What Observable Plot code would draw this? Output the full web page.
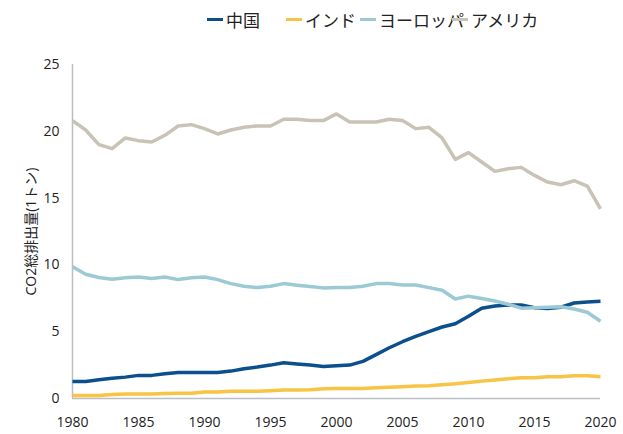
<!DOCTYPE html>
<html>
<head>
<meta charset="utf-8">
<script src="https://cdn.jsdelivr.net/npm/d3@7"></script>
<script src="https://cdn.jsdelivr.net/npm/@observablehq/plot@0.6"></script>
<style>
  body { margin: 0; background: #fff; font-family: "Open Sans", "Noto Sans CJK JP", sans-serif; }
  #legend { height: 40px; position: relative; font-size: 17px; color: #222; }
  .item { position: absolute; top: 7px; display: flex; align-items: center; white-space: nowrap; }
  .sw { width: 16px; height: 3px; margin-right: 3px; }
</style>
</head>
<body>
<div id="legend"></div>
<div id="chart"></div>
<script>
const years = d3.range(1980, 2021);
const seriesNames = ["中国", "インド", "ヨーロッパ", "アメリカ"];
const seriesColors = ["#0b4f8c", "#f7c443", "#9ccad4", "#c9c3b5"];

const china = [1.28,1.28,1.40,1.52,1.60,1.73,1.73,1.85,1.95,1.95,1.95,1.95,2.05,2.23,2.35,2.50,2.68,2.58,2.50,2.40,2.45,2.50,2.78,3.28,3.80,4.25,4.65,5.00,5.35,5.60,6.15,6.76,6.93,7.00,7.00,6.80,6.73,6.83,7.15,7.23,7.28];
const india = [0.22,0.22,0.22,0.30,0.33,0.33,0.33,0.38,0.40,0.40,0.48,0.48,0.55,0.55,0.55,0.58,0.63,0.63,0.65,0.73,0.75,0.75,0.75,0.80,0.85,0.88,0.93,0.95,1.03,1.10,1.20,1.30,1.38,1.48,1.55,1.55,1.63,1.63,1.70,1.70,1.63];
const europe = [9.86,9.30,9.06,8.93,9.03,9.10,8.98,9.10,8.90,9.03,9.10,8.90,8.60,8.40,8.30,8.40,8.60,8.48,8.38,8.28,8.30,8.30,8.40,8.60,8.60,8.50,8.50,8.30,8.10,7.45,7.66,7.48,7.30,7.06,6.76,6.80,6.83,6.86,6.70,6.46,5.78];
const usa = [20.8,20.1,19.0,18.7,19.5,19.3,19.2,19.7,20.4,20.5,20.2,19.8,20.1,20.3,20.4,20.4,20.9,20.9,20.8,20.8,21.3,20.7,20.7,20.7,20.9,20.8,20.2,20.3,19.5,17.9,18.4,17.7,17.0,17.2,17.3,16.7,16.2,16.0,16.3,15.9,14.2];

const yTicks = [0, 5, 10, 15, 20, 25];
const xTicks = [1980, 1985, 1990, 1995, 2000, 2005, 2010, 2015, 2020];

const allSeries = [china, india, europe, usa];
const data = [];
allSeries.forEach((vals, i) => vals.forEach((v, j) => data.push({year: years[j], value: v, series: seriesNames[i]})));

// legend
const legendLeft = [207, 286, 360, 452];
const legend = document.getElementById("legend");
seriesNames.forEach((n, i) => {
  const it = document.createElement("div");
  it.className = "item";
  it.style.left = legendLeft[i] + "px";
  it.innerHTML = `<span class="sw" style="background:${seriesColors[i]}"></span><span>${n}</span>`;
  legend.appendChild(it);
});

const chart = Plot.plot({
  width: 623,
  height: 394,
  marginTop: 24,
  marginBottom: 36,
  marginLeft: 72,
  marginRight: 23,
  style: {fontFamily: '"Open Sans", "Noto Sans CJK JP", sans-serif', fontSize: "14px", color: "#222", background: "#fff"},
  x: {domain: [1980, 2020], ticks: xTicks, tickFormat: d => String(d), tickSize: 0, tickPadding: 19, label: null},
  y: {domain: [0, 25], ticks: yTicks, tickSize: 0, tickPadding: 13, label: "CO2総排出量(1トン)", labelAnchor: "center", labelArrow: "none", labelOffset: 46},
  color: {domain: seriesNames, range: seriesColors},
  marks: [
    Plot.ruleX([1980], {stroke: "#b9bec4", strokeWidth: 1.5}),
    Plot.ruleY([0], {stroke: "#b9bec4", strokeWidth: 1.5}),
    Plot.line(data, {x: "year", y: "value", z: "series", stroke: "series", strokeWidth: 3.5, strokeLinejoin: "round", strokeLinecap: "butt"})
  ]
});
document.getElementById("chart").appendChild(chart);
</script>
</body>
</html>
